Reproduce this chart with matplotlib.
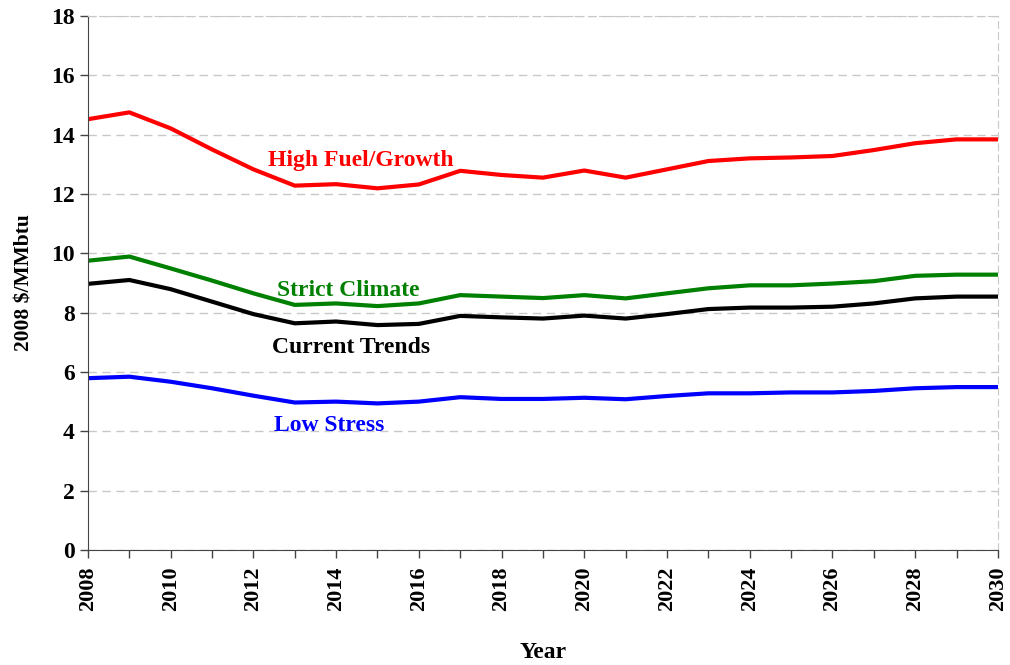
import numpy as np
import matplotlib.pyplot as plt

years = list(range(2008, 2031))

high_fuel = [14.52, 14.75, 14.21, 13.50, 12.83, 12.28, 12.33, 12.19, 12.32, 12.78, 12.64, 12.55,
             12.79, 12.55, 12.83, 13.11, 13.20, 13.23, 13.28, 13.48, 13.71, 13.84, 13.84]
strict_climate = [9.75, 9.89, 9.49, 9.08, 8.65, 8.26, 8.31, 8.22, 8.31, 8.59, 8.54, 8.49,
                  8.59, 8.48, 8.65, 8.82, 8.92, 8.92, 8.98, 9.06, 9.24, 9.28, 9.28]
current_trends = [8.97, 9.10, 8.79, 8.37, 7.95, 7.64, 7.70, 7.58, 7.62, 7.89, 7.84, 7.80,
                  7.90, 7.80, 7.95, 8.12, 8.17, 8.17, 8.20, 8.31, 8.48, 8.54, 8.54]
low_stress = [5.79, 5.84, 5.67, 5.45, 5.20, 4.97, 5.00, 4.94, 5.00, 5.15, 5.09, 5.09,
              5.13, 5.08, 5.19, 5.28, 5.28, 5.31, 5.31, 5.36, 5.45, 5.49, 5.49]

series = [
    ('High Fuel/Growth', high_fuel, '#ff0000', (2014.6, 13.14)),
    ('Strict Climate', strict_climate, '#008000', (2014.3, 8.76)),
    ('Current Trends', current_trends, '#000000', (2014.35, 6.81)),
    ('Low Stress', low_stress, '#0000ff', (2013.83, 4.21)),
]

plt.rcParams['font.family'] = ['Liberation Serif', 'DejaVu Serif']
plt.rcParams['font.weight'] = 'bold'

fig = plt.figure(figsize=(10.1, 6.65), dpi=100)
ax = fig.add_axes([0.0871, 0.173, 0.9009, 0.803])

for name, vals, color, pos in series:
    ax.plot(years, vals, color=color, lw=3, solid_joinstyle='round')
    ax.text(pos[0], pos[1], name, color=color, fontsize=17, fontweight='bold',
            ha='center', va='center')

ax.set_xlim(2008, 2030)
ax.set_ylim(0, 18)
ax.set_xticks(range(2008, 2031, 2))
ax.set_xticks(years, minor=True)
ax.set_xticklabels([str(y) for y in range(2008, 2031, 2)], rotation=90,
                   fontsize=16, fontweight='bold')
ax.set_yticks(range(0, 19, 2))
ax.set_yticklabels([str(v) for v in range(0, 19, 2)], fontsize=17, fontweight='bold')
ax.tick_params(axis='both', which='both', direction='out', length=6, width=1, color='#444444')
ax.tick_params(axis='x', pad=6)

ax.grid(axis='y', color='#c8c8c8', linestyle=(0, (6, 4)), lw=1)
ax.set_axisbelow(True)

ax.spines['top'].set_linestyle((0, (6, 4)))
ax.spines['top'].set_color('#c8c8c8')
ax.spines['right'].set_linestyle((0, (6, 4)))
ax.spines['right'].set_color('#c8c8c8')
ax.spines['left'].set_color('#444444')
ax.spines['bottom'].set_color('#444444')

ax.set_xlabel('Year', fontsize=17, fontweight='bold', labelpad=22)
ax.set_ylabel('2008 $/MMbtu', fontsize=15.5, fontweight='bold', labelpad=12)

fig.savefig('out.png', dpi=100)
